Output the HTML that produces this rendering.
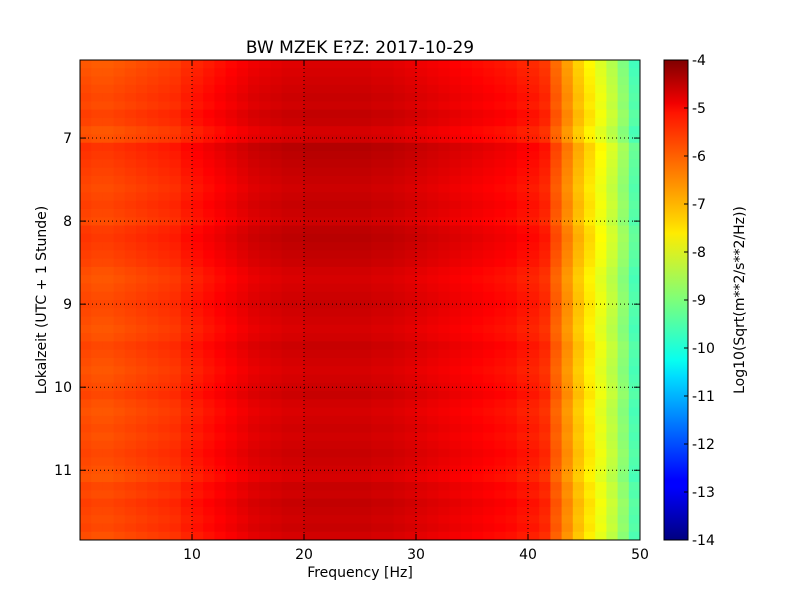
<!DOCTYPE html>
<html><head><meta charset="utf-8"><style>
body{margin:0;background:#fff;font-family:"DejaVu Sans","Liberation Sans",sans-serif;}
svg text{font-family:"DejaVu Sans","Liberation Sans",sans-serif;}
</style></head><body>
<svg id="chart" width="800" height="600" xmlns="http://www.w3.org/2000/svg">
<rect width="800" height="600" fill="#fff"/>
<text x="360" y="53" font-size="17" text-anchor="middle">BW MZEK E?Z: 2017-10-29</text>
<g id="heat"></g>
<g id="grid"></g>
<rect x="80" y="60" width="560" height="480" fill="none" stroke="#000"/>
<g id="axes"></g>
<text x="360" y="577" font-size="14" text-anchor="middle">Frequency [Hz]</text>
<text transform="translate(46,300) rotate(-90)" font-size="14" text-anchor="middle">Lokalzeit (UTC + 1 Stunde)</text>
<defs><linearGradient id="jet" x1="0" y1="1" x2="0" y2="0">
<stop offset="0" stop-color="#00007f"/><stop offset="0.11" stop-color="#0000ff"/><stop offset="0.125" stop-color="#0000ff"/><stop offset="0.34" stop-color="#00dcff"/><stop offset="0.375" stop-color="#08ffef"/><stop offset="0.5" stop-color="#7dff7a"/><stop offset="0.64" stop-color="#ffeb00"/><stop offset="0.66" stop-color="#ffd700"/><stop offset="0.89" stop-color="#ff1400"/><stop offset="0.91" stop-color="#f20000"/><stop offset="1" stop-color="#7f0000"/>
</linearGradient></defs>
<rect x="664" y="60" width="24" height="480" fill="url(#jet)" stroke="#000"/>
<g id="cbticks"></g>
<text transform="translate(744,300) rotate(-90)" font-size="14" text-anchor="middle">Log10(Sqrt(m**2/s**2/Hz))</text>
</svg>
<script>
const freqProfile=[-6.0,-6.05,-6.05,-6.0,-5.95,-5.9,-5.85,-5.8,-5.75,-5.6,-5.5,-5.4,-5.3,-5.2,-5.1,-5.0,-4.95,-4.9,-4.85,-4.85,-4.8,-4.8,-4.8,-4.8,-4.8,-4.8,-4.85,-4.85,-4.9,-4.95,-5.0,-5.05,-5.1,-5.15,-5.2,-5.25,-5.3,-5.35,-5.4,-5.5,-5.55,-5.7,-6.2,-6.7,-7.2,-7.6,-8.0,-8.4,-8.9,-9.5];
const timeOffsets=[-0.1,-0.05,0.0,0.05,0.1,0.05,0.15,0.1,-0.05,0.0,0.3,0.25,0.2,0.15,0.1,0.05,0.1,0.15,0.1,0.05,0.2,0.25,0.2,0.15,0.1,0.0,-0.05,0.0,0.05,0.1,0.05,0.0,-0.05,0.0,0.1,0.05,0.0,-0.05,0.0,0.05,0.1,0.0,-0.05,0.0,0.05,0.0,0.05,0.1,0.05,0.0,-0.05,0.1,0.05,0.15,0.1,0.05,0.1,0.0];
const xTicks=[10,20,30,40,50];
const yTicks=[7,8,9,10,11];
const cbTicks=[-4,-5,-6,-7,-8,-9,-10,-11,-12,-13,-14];
const X0=80,X1=640,Y0=60,Y1=540,tMin=6.06,tMax=11.84,vMin=-14,vMax=-4;
const xS=f=>X0+(f/50)*(X1-X0);
const yS=t=>Y0+(t-tMin)/(tMax-tMin)*(Y1-Y0);
const cS=v=>Y1-(v-vMin)/(vMax-vMin)*(Y1-Y0);
function jet(v){const t=Math.max(0,Math.min(1,(v-vMin)/(vMax-vMin)));const c=x=>Math.round(255*Math.max(0,Math.min(1,1.5-Math.abs(4*t-x))));return `rgb(${c(3)},${c(2)},${c(1)})`;}
const NS='http://www.w3.org/2000/svg';
function mk(tag,attrs,parent){const e=document.createElementNS(NS,tag);for(const k in attrs)e.setAttribute(k,attrs[k]);parent.appendChild(e);return e;}
const heat=document.getElementById('heat');
const nT=timeOffsets.length,dt=(tMax-tMin)/nT;
timeOffsets.forEach((o,ti)=>{freqProfile.forEach((p,fi)=>{
 const r=mk('rect',{x:xS(fi),y:yS(tMin+ti*dt),width:xS(fi+1)-xS(fi)+0.5,height:yS(tMin+(ti+1)*dt)-yS(tMin+ti*dt)+0.5,fill:jet(p+o)},heat);
 
 
});});
const grid=document.getElementById('grid'),axes=document.getElementById('axes');
xTicks.forEach(f=>{const x=xS(f);
 if(f<50)mk('line',{x1:x,x2:x,y1:Y0,y2:Y1,stroke:'#000','stroke-dasharray':'1,3','stroke-width':1},grid);
 mk('line',{x1:x,x2:x,y1:Y1,y2:Y1-6,stroke:'#000'},axes);mk('line',{x1:x,x2:x,y1:Y0,y2:Y0+6,stroke:'#000'},axes);
 const t=mk('text',{x:x,y:Y1+19,'font-size':14,'text-anchor':'middle'},axes);t.textContent=f;
 
 });
yTicks.forEach(h=>{const y=yS(h);
 mk('line',{x1:X0,x2:X1,y1:y,y2:y,stroke:'#000','stroke-dasharray':'1,3','stroke-width':1},grid);
 mk('line',{x1:X0,x2:X0+6,y1:y,y2:y,stroke:'#000'},axes);mk('line',{x1:X1,x2:X1-6,y1:y,y2:y,stroke:'#000'},axes);
 const t=mk('text',{x:X0-8,y:y+5,'font-size':14,'text-anchor':'end'},axes);t.textContent=h;
 
 });
const cb=document.getElementById('cbticks');
cbTicks.forEach(v=>{const y=cS(v);
 mk('line',{x1:684,x2:688,y1:y,y2:y,stroke:'#000'},cb);
 const t=mk('text',{x:692,y:y+5,'font-size':14},cb);t.textContent=v;
 
 });
</script>
</body></html>
